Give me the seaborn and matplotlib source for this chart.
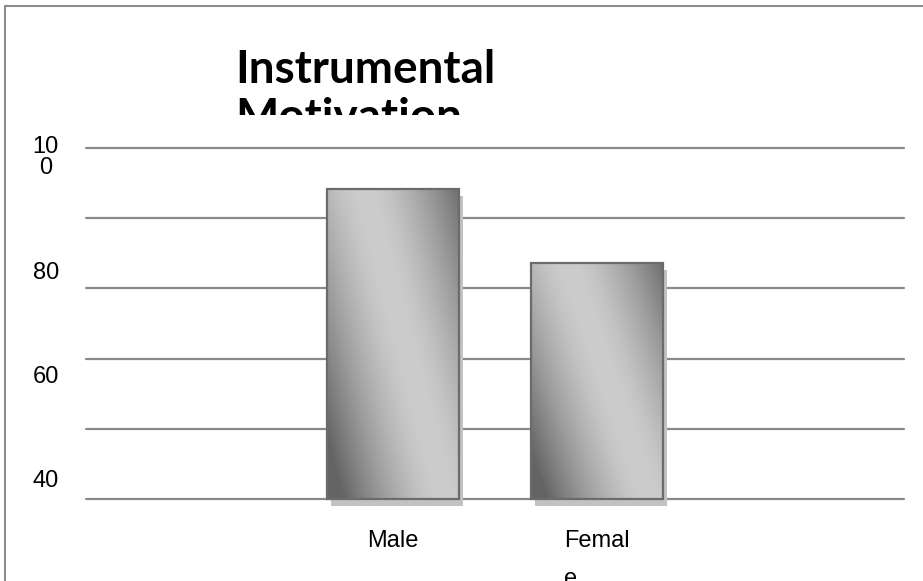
import numpy as np
import pandas as pd
import matplotlib
matplotlib.use("Agg")
import matplotlib.pyplot as plt
import matplotlib.transforms as mtransforms
from matplotlib.colors import LinearSegmentedColormap
from matplotlib.patches import Rectangle
import seaborn as sns

# values
groups = ["Male", "Female"]
scores = [93.0, 80.3]
group_labels = ["Male", "Femal\ne"]
ytick_text = ["40", "60", "80", "10\n0"]
title = "Instrumental\nMotivation"

df = pd.DataFrame({"Group": groups, "Score": scores})

sns.set_style("white")
plt.rcParams["font.family"] = ["Liberation Sans", "DejaVu Sans"]
plt.rcParams["text.color"] = "black"
plt.rcParams["xtick.color"] = "black"
plt.rcParams["ytick.color"] = "black"

W, H = 923, 581
fig = plt.figure(figsize=(W / 100, H / 100), dpi=100)
ax = fig.add_axes([86 / W, 1 - 499 / H, (904 - 86) / W, (499 - 148) / H])
ax.patch.set_alpha(0)

sns.barplot(data=df, x="Group", y="Score", ax=ax, width=0.645,
            color="#bbbbbb", edgecolor="#6b6b6b", linewidth=1.6, zorder=4)

ymin, ymax = 40, 100

# grey shading: light band running slightly diagonal, dark top-right / bottom-left
shade = LinearSegmentedColormap.from_list("shade", ["#cbcbcb", "#646464"])
yy, xx = np.mgrid[0:1:300j, 0:1:200j]
dist = np.abs(xx - (0.28 + 0.62 * yy))
grad = np.clip((dist - 0.06) / 0.72, 0, 1) ** 1.4
shadow_tr = mtransforms.offset_copy(ax.transData, fig=fig, x=4, y=-7, units="dots")

for bar in list(ax.patches):
    top = bar.get_y() + bar.get_height()
    bar.set_y(ymin)
    bar.set_height(top - ymin)
    x0, w = bar.get_x(), bar.get_width()
    sh = Rectangle((x0, ymin), w, top - ymin, transform=shadow_tr,
                   facecolor="#c2c2c2", edgecolor="none", zorder=2, clip_on=False)
    ax.add_artist(sh)
    im = ax.imshow(grad, cmap=shade, vmin=0, vmax=1, extent=(x0, x0 + w, ymin, top),
                   origin="upper", aspect="auto", zorder=3, interpolation="bilinear")
    im.set_clip_path(bar)
    bar.set_facecolor("none")
    bar.set_clip_on(False)

ax.set_xlim(-1.5, 2.5)
ax.set_ylim(ymin, ymax)

# gridlines on minor ticks, labels sit a bit off like in the original
ax.set_yticks(np.linspace(ymin, ymax, 6), minor=True)
ax.set_yticks([43.5, 61.3, 79.0, 98.8], ytick_text)
ax.grid(False, which="major")
ax.grid(True, which="minor", axis="y", color="#8a8a8a", linewidth=1.6)
for t in ax.yaxis.get_minor_ticks():
    t.gridline.set_clip_on(False)
ax.tick_params(which="both", length=0)
ax.tick_params(axis="y", pad=29, labelsize=17)
for lbl in ax.get_yticklabels():
    lbl.set_horizontalalignment("center")
ax.get_yticklabels()[-1].set_linespacing(0.95)

ax.set_xticks([0, 1], group_labels)
ax.tick_params(axis="x", pad=22.5, labelsize=17)
ax.get_xticklabels()[1].set_multialignment("left")
ax.get_xticklabels()[1].set_linespacing(1.95)
ax.set_xlabel("")
ax.set_ylabel("")
sns.despine(ax=ax, left=True, bottom=True)

# title is cut off at the second line in the original
tax = fig.add_axes([0, 1 - 115 / H, 1, 115 / H])
tax.axis("off")
tax.text(235 / W, 1 - 131 / H, title, transform=fig.transFigure, fontsize=33,
         fontweight="bold", family=["Lato", "DejaVu Sans"], va="baseline",
         ha="left", linespacing=1.17, clip_on=True, color="black")

# outer frame (right and bottom edges are outside the picture)
fig.add_artist(Rectangle((5 / W, -0.05), 1.0, 1 - 6 / H + 0.05, transform=fig.transFigure,
                         fill=False, edgecolor="#8c8c8c", linewidth=1.5))

fig.savefig("out.png", dpi=100)
